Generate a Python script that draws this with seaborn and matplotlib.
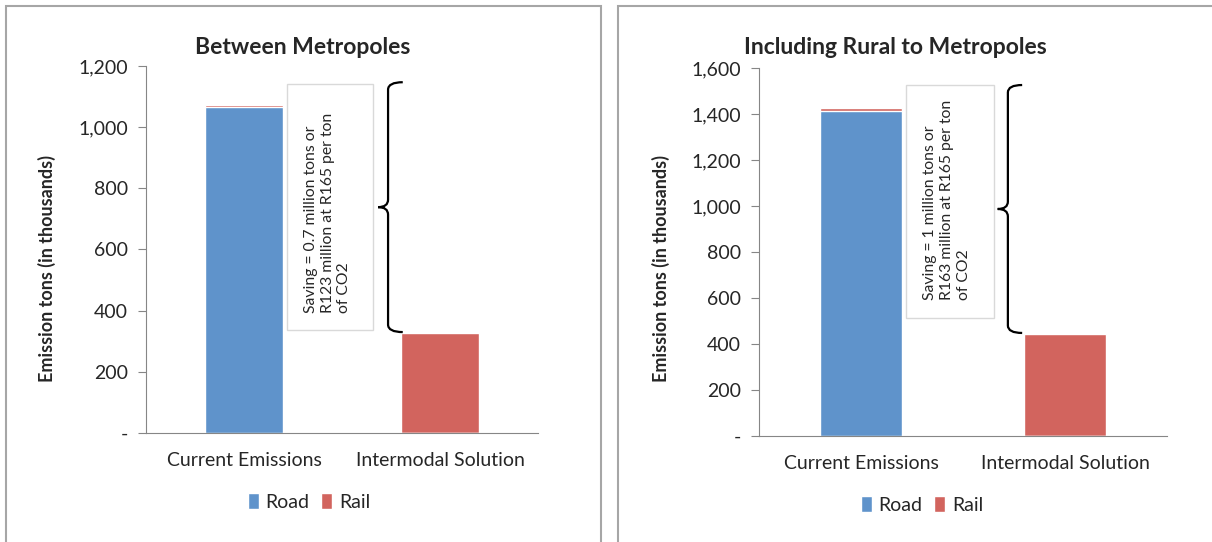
import seaborn as sns
import matplotlib.pyplot as plt
import numpy as np
import pandas as pd
from matplotlib.patches import Rectangle
from matplotlib.path import Path
from matplotlib.patches import PathPatch

# values (thousand tons of CO2)
categories = ["Current Emissions", "Intermodal Solution"]
road_metro = [1065, 0]
rail_metro = [7, 328]
road_rural = [1413, 0]
rail_rural = [14, 443]

titles = ["Between Metropoles", "Including Rural to Metropoles"]
notes = ["Saving = 0.7 million tons or\nR123 million at R165 per ton\nof CO2",
         "Saving = 1 million tons or\nR163 million at R165 per ton\nof CO2"]
ymax = [1200, 1600]
ystep = [200, 200]

BLUE = "#5F93CB"
RED = "#D2645E"
GREY = "#868686"

sns.set_style("white")
plt.rcParams['font.family'] = ['Lato', 'DejaVu Sans']

fig = plt.figure(figsize=(12.12, 5.42), dpi=100)

# panel frames like the spreadsheet chart areas
for x0, x1 in [(6, 601), (618, 1230)]:
    fig.patches.append(Rectangle((x0 / 1212, -0.1), (x1 - x0) / 1212, 1.1 - 6 / 542,
                                 transform=fig.transFigure, fill=False,
                                 edgecolor="#A6A6A6", linewidth=1.5))

axes = [fig.add_axes([146 / 1212, 109 / 542, 392 / 1212, 367 / 542]),
        fig.add_axes([759 / 1212, 106 / 542, 408 / 1212, 368 / 542])]

datasets = [(road_metro, rail_metro), (road_rural, rail_rural)]
title_x = [303 / 1212, 895 / 1212]
ylab_x = [47 / 1212, 661 / 1212]
boxes = [(0.22, 0.66, 337, 1140), (0.22, 0.65, 513, 1526)]
text_y = [392, 591]
legend_x = [0.416, 0.40]
braces = [(0.81, 0.735, 0.684, 330, 1147), (0.79, 0.72, 0.67, 448, 1526)]

for i, ax in enumerate(axes):
    road, rail = datasets[i]
    df = pd.DataFrame({"category": categories, "Road": road, "Rail": rail})
    df["total"] = df["Road"] + df["Rail"]

    # stacked: draw total in rail colour, road over it
    sns.barplot(data=df, x="category", y="total", color=RED, width=0.4,
                saturation=1, ax=ax, label="Rail")
    sns.barplot(data=df, x="category", y="Road", color=BLUE, width=0.4,
                saturation=1, ax=ax, label="Road")

    ax.set_xlim(-0.5, 1.5)
    ax.set_ylim(0, ymax[i])
    yt = np.arange(0, ymax[i] + 1, ystep[i])
    ax.set_yticks(yt)
    ax.set_yticklabels(["-"] + ["{:,}".format(v) for v in yt[1:]], fontsize=14)
    ax.set_xticks([0, 1])
    ax.set_xticklabels(categories, fontsize=14)
    ax.set_xticks([-0.5, 0.5, 1.5], minor=True)
    ax.tick_params(axis="x", which="major", length=0, pad=14)
    ax.tick_params(axis="x", which="minor", length=6, direction="out", color=GREY)
    ax.tick_params(axis="y", length=6, direction="out", color=GREY, pad=7, left=True)
    ax.set_xlabel("")
    ax.set_ylabel("")
    sns.despine(ax=ax)
    for s in ["left", "bottom"]:
        ax.spines[s].set_color(GREY)

    fig.text(title_x[i], 1 - 48 / 542, titles[i], ha="center", va="center",
             fontsize=16.5, fontweight="bold")
    fig.text(ylab_x[i], (542 - 269) / 542, "Emission tons (in thousands)",
             rotation=90, ha="center", va="center", fontsize=13, fontweight="bold")

    # note box
    bx0, bx1, by0, by1 = boxes[i]
    ax.add_patch(Rectangle((bx0, by0), bx1 - bx0, by1 - by0, fill=False,
                           edgecolor="#D9D9D9", linewidth=1, clip_on=False))
    ax.text(bx0 + 0.085, text_y[i], notes[i], rotation=90,
            ha="left", va="bottom", multialignment="left", fontsize=11.3,
            linespacing=1.25)

    # curly brace
    xh, xv, xt, y0, y1 = braces[i]
    ym = (y0 + y1) / 2
    r = (y1 - y0) * 0.03
    verts = [(xh, y1), (xv, y1), (xv, y1 - r),
             (xv, ym + r),
             (xv, ym), (xt, ym),
             (xv, ym), (xv, ym - r),
             (xv, y0 + r),
             (xv, y0), (xh, y0)]
    codes = [Path.MOVETO, Path.CURVE3, Path.CURVE3,
             Path.LINETO,
             Path.CURVE3, Path.CURVE3,
             Path.CURVE3, Path.CURVE3,
             Path.LINETO,
             Path.CURVE3, Path.CURVE3]
    ax.add_patch(PathPatch(Path(verts, codes), fill=False, edgecolor="black",
                           linewidth=1.6, clip_on=False))

    handles, labels = ax.get_legend_handles_labels()
    order = [labels.index("Road"), labels.index("Rail")]
    ax.legend([handles[k] for k in order], [labels[k] for k in order],
              loc="center", bbox_to_anchor=(legend_x[i], -0.188), ncol=2,
              frameon=False, fontsize=14, handlelength=0.55, handleheight=0.9,
              handletextpad=0.35, columnspacing=0.6)

fig.savefig("out.png", dpi=100)
